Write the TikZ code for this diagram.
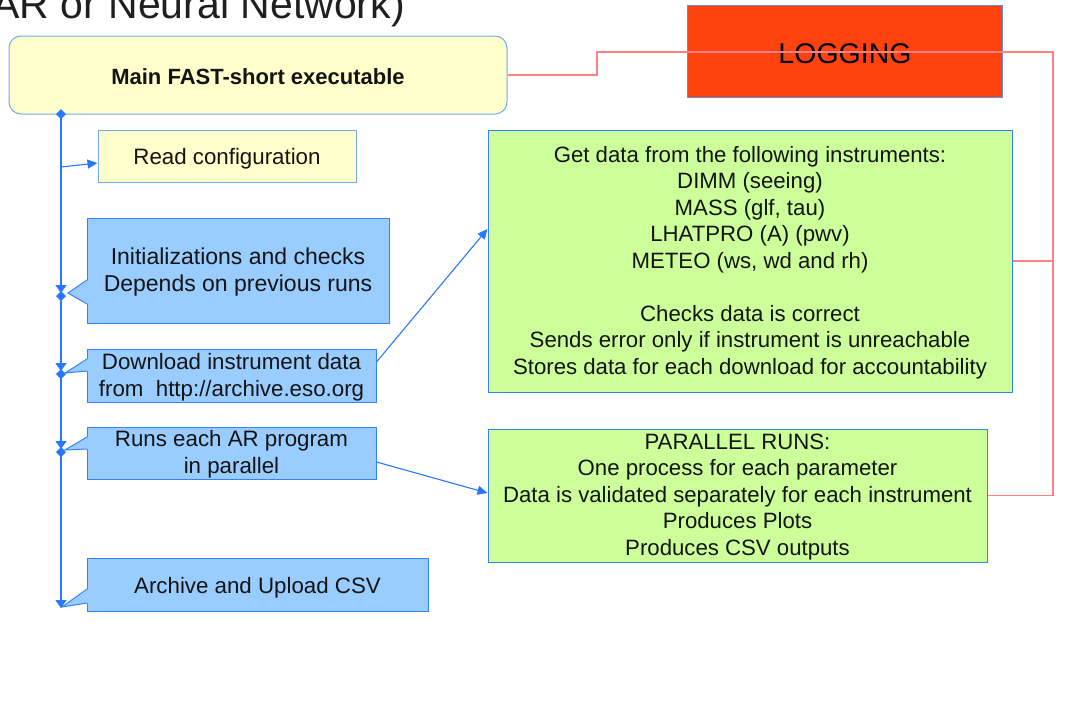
\documentclass[tikz,border=0pt]{standalone}
\usepackage{fontspec}
\setmainfont{Liberation Sans}
\usetikzlibrary{arrows.meta}
\definecolor{yfill}{RGB}{255,255,204}
\definecolor{bfill}{RGB}{153,204,255}
\definecolor{gfill}{RGB}{204,255,153}
\definecolor{ofill}{RGB}{255,66,14}
\definecolor{bline}{RGB}{114,170,240}
\definecolor{cline}{RGB}{52,130,255}
\definecolor{lline}{RGB}{100,140,220}
\definecolor{conn}{RGB}{40,120,255}
\definecolor{rline}{RGB}{255,130,130}
\begin{document}
\begin{tikzpicture}[x=1pt,y=-1pt,
  box/.style={draw=cline,line width=1pt,inner sep=0pt},
  txt/.style={inner sep=0pt,align=center,text=black!92},
  lefttext/.style={txt,font=\fontsize{22.3}{26.5}\selectfont},
  greentext/.style={txt,font=\fontsize{22.2}{26.5}\selectfont},
  callout/.style={box,fill=bfill},
  greenbox/.style={box,fill=gfill},
  tailfill/.style={fill=bfill},
  tailline/.style={draw=cline,line width=1pt},
  connector/.style={draw=conn,line width=1.1pt},
  vline/.style={connector,{Diamond[length=10pt,width=10pt]}-{Triangle[length=8pt,width=11pt]}},
  arr/.style={connector,-{Triangle[length=10pt,width=9pt]}},
  logline/.style={draw=rline,line width=1.3pt},
]
\useasboundingbox (0,0) rectangle (1069,724);
\clip (0,0) rectangle (1069,724);

% partial title at the top
\node[anchor=base east,inner sep=0pt,font=\fontsize{41}{49}\selectfont,text=black!88] (title) at (405,18) {AR or Neural Network)};

% main box
\node[box,draw=bline,fill=yfill,rounded corners=12pt,minimum width=498pt,minimum height=78pt] (main) at (258,75) {};
\node[txt,font=\bfseries\fontsize{22}{26}\selectfont] (mainT) at ([yshift=-2pt]main.center) {Main FAST-short executable};

% logging
\node[box,draw=lline,fill=ofill,minimum width=315pt,minimum height=92pt] (log) at (845,51) {};
\node[txt,font=\fontsize{28.5}{34}\selectfont,text=black] (logT) at ([yshift=-3pt]log.center) {LOGGING};

% read configuration
\node[box,draw=bline,fill=yfill,minimum width=258pt,minimum height=52pt] (read) at (227,156) {};
\node[lefttext] (readT) at ([yshift=-3pt]read.center) {Read configuration};

% callouts
\node[callout,minimum width=302pt,minimum height=105pt] (init) at (238,270.5) {};
\node[callout,minimum width=289pt,minimum height=53pt] (dl) at (231.5,375.5) {};
\node[callout,minimum width=289pt,minimum height=52pt] (runs) at (231.5,453) {};
\node[callout,minimum width=341pt,minimum height=53pt] (arch) at (257.5,584.5) {};

% callout tails
\coordinate (initTip) at (68,293);
\coordinate (dlTip) at (65,373);
\coordinate (runsTip) at (65,450);
\coordinate (archTip) at (62,607);
\fill[tailfill] (88,280) -- (initTip) -- (88,304) -- cycle;
\draw[tailline] (87,280) -- (initTip) -- (87,304);
\fill[tailfill] (88,359) -- (dlTip) -- (88,371) -- cycle;
\draw[tailline] (87,359) -- (dlTip) -- (87,371);
\fill[tailfill] (88,437) -- (runsTip) -- (88,449) -- cycle;
\draw[tailline] (87,437) -- (runsTip) -- (87,449);
\fill[tailfill] (88,589) -- (archTip) -- (88,603) -- cycle;
\draw[tailline] (87,589) -- (archTip) -- (87,603);

\node[lefttext,font=\fontsize{23}{27}\selectfont] (initT) at ([yshift=-1.5pt]init.center) {Initializations and checks\\Depends on previous runs};
\node[lefttext] (dlT) at ([yshift=-1.5pt]dl.center) {Download instrument data\\from\ \ http://archive.eso.org};
\node[lefttext] (runsT) at ([yshift=-1pt]runs.center) {Runs each AR program\\in parallel};
\node[lefttext] (archT) at ([yshift=-3pt]arch.center) {Archive and Upload CSV};

% green boxes
\node[greenbox,minimum width=524pt,minimum height=262pt] (g1) at (750,261) {};
\node[greentext] (g1T) at ([yshift=-1.5pt]g1.center)
  {Get data from the following instruments:\\DIMM (seeing)\\MASS (glf, tau)\\LHATPRO (A) (pwv)\\METEO (ws, wd and rh)\\[26.5pt]Checks data is correct\\Sends error only if instrument is unreachable\\Stores data for each download for accountability};
\node[greenbox,minimum width=499pt,minimum height=133pt] (par) at (737.5,495.5) {};
\node[greentext] (parT) at ([yshift=-1.5pt]par.center)
  {PARALLEL RUNS:\\One process for each parameter\\Data is validated separately for each instrument\\Produces Plots\\Produces CSV outputs};

% vertical flow line
\coordinate (v0) at (61,109);
\coordinate (v1) at (61,293);
\coordinate (v1s) at (61,291);
\coordinate (v2) at (61,371);
\coordinate (v2s) at (61,369);
\coordinate (v3) at (61,449);
\coordinate (v3s) at (61,447);
\coordinate (v4) at (61,608);
\draw[vline] (v0) -- (v1);
\draw[vline] (v1s) -- (v2);
\draw[vline] (v2s) -- (v3);
\draw[vline] (v3s) -- (v4);

% arrows
\coordinate (rc) at (61,167);
\draw[arr] (rc) -- ([yshift=-7pt]read.west);
\draw[arr] ([yshift=13.5pt]dl.east) -- ([yshift=32pt]g1.west);
\draw[arr] ([yshift=-9pt]runs.east) -- ([yshift=2.5pt]par.west);

% logging lines
\coordinate (r1) at (597,52);
\coordinate (r2) at (1053,52);
\draw[logline] (main.east) -| (r1) -- (r2) |- (par.east);
\draw[logline] (r2 |- g1.east) -- (g1.east);
\end{tikzpicture}
\end{document}
